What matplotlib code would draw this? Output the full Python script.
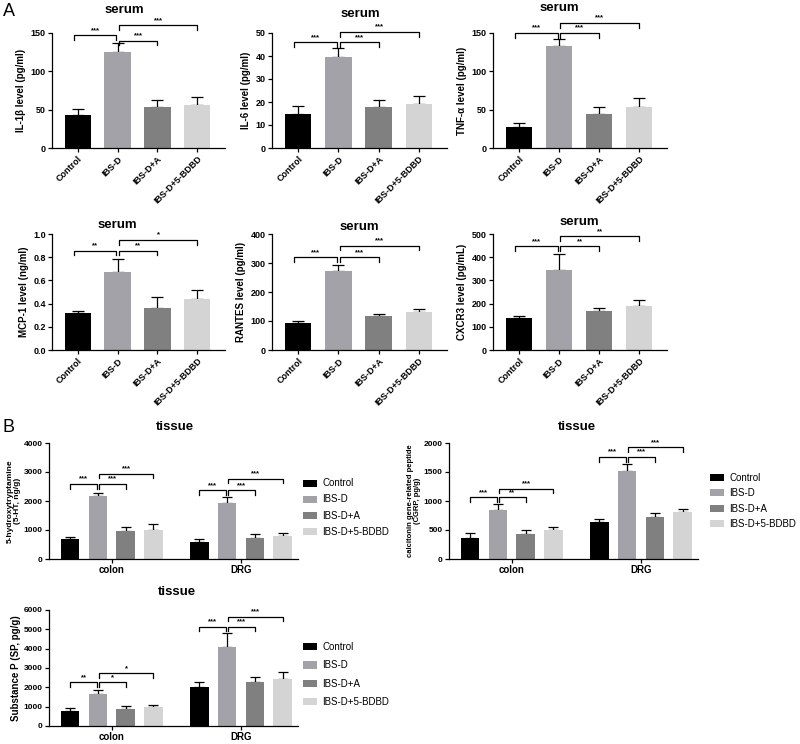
import numpy as np
import matplotlib
matplotlib.use('Agg')
import matplotlib.pyplot as plt

plt.rcParams['font.family'] = ['Liberation Sans', 'DejaVu Sans']

groups = ['Control', 'IBS-D', 'IBS-D+A', 'IBS-D+5-BDBD']
colors = ['#000000', '#a2a2a8', '#808080', '#d4d4d4']

# serum panels: means and upper error lengths
il1b = [43, 125, 54, 56]
il1b_err = [8, 12, 8, 11]
il6 = [15, 39.5, 18, 19]
il6_err = [3.3, 4, 3, 3.5]
tnf = [28, 133, 45, 54]
tnf_err = [4, 9, 8, 11]
mcp1 = [0.317, 0.674, 0.366, 0.441]
mcp1_err = [0.02, 0.113, 0.089, 0.078]
rantes = [92, 273, 118, 131]
rantes_err = [9, 21, 5, 10]
cxcr3 = [137, 346, 166, 189]
cxcr3_err = [10, 68, 14, 26]

# tissue panels: colon and DRG groups
tissues = ['colon', 'DRG']
ht5_colon = [680, 2156, 957, 991]
ht5_colon_err = [92, 115, 138, 208]
ht5_drg = [588, 1948, 738, 784]
ht5_drg_err = [92, 185, 115, 127]
cgrp_colon = [357, 847, 432, 501]
cgrp_colon_err = [87, 98, 69, 47]
cgrp_drg = [634, 1522, 726, 807]
cgrp_drg_err = [52, 115, 75, 58]
sp_colon = [776, 1638, 879, 966]
sp_colon_err = [138, 207, 138, 137]
sp_drg = [2034, 4103, 2293, 2431]
sp_drg_err = [259, 690, 241, 345]

W, H = 800, 744
fig = plt.figure(figsize=(8, 7.44), dpi=100)


def add_ax(l, t, r, b):
    ax = fig.add_axes([l / W, 1 - b / H, (r - l) / W, (b - t) / H])
    ax.spines['top'].set_visible(False)
    ax.spines['right'].set_visible(False)
    for s in ['left', 'bottom']:
        ax.spines[s].set_linewidth(0.9)
    ax.tick_params(width=0.9, length=3, labelsize=6.5, pad=1.5)
    return ax


def bold_yticks(ax):
    for lab in ax.get_yticklabels():
        lab.set_fontweight('bold')


def bracket(ax, x1, x2, y, txt, drop):
    ax.plot([x1, x1, x2, x2], [y - drop, y, y, y - drop], color='k', lw=0.9, clip_on=False)
    ax.text((x1 + x2) / 2, y + drop * 0.3, txt, ha='center', va='bottom', fontsize=5.5,
            fontweight='bold', clip_on=False)


def serum_panel(l, t, r, b, vals, errs, ymax, yticks, ylabel, sig, levels):
    ax = add_ax(l, t, r, b)
    x = np.arange(4)
    ax.bar(x, vals, width=0.66, color=colors, zorder=2)
    ax.errorbar(x, vals, yerr=[np.zeros(4), errs], fmt='none', ecolor='k',
                elinewidth=0.9, capsize=4.3, capthick=0.9, zorder=1)
    ax.set_xlim(-0.65, 3.7)
    ax.set_ylim(0, ymax)
    ax.set_yticks(yticks)
    ax.set_xticks(x)
    ax.set_xticklabels(groups, rotation=45, ha='right', rotation_mode='anchor',
                       fontsize=6.5, fontweight='bold')
    bold_yticks(ax)
    ax.set_ylabel(ylabel, fontsize=7, fontweight='bold', labelpad=3)
    drop = ymax * 0.04
    bracket(ax, -0.1, 0.97, levels[0], sig[0], drop)
    bracket(ax, 1.03, 2.0, levels[1], sig[1], drop)
    bracket(ax, 1.03, 3.0, levels[2], sig[2], drop)
    return ax


def tissue_panel(l, t, r, b, cvals, cerrs, dvals, derrs, ymax, yticks, ylabel, ysize,
                 csig, clev, dsig, dlev, leg_xy, leg_sp):
    ax = add_ax(l, t, r, b)
    off = 4.65
    x = np.arange(4)
    for i in range(4):
        ax.bar([x[i], x[i] + off], [cvals[i], dvals[i]], width=0.67, color=colors[i],
               label=groups[i], zorder=2)
    ax.errorbar(np.concatenate([x, x + off]), cvals + dvals,
                yerr=[np.zeros(8), cerrs + derrs], fmt='none', ecolor='k',
                elinewidth=0.9, capsize=3.6, capthick=0.9, zorder=1)
    ax.set_xlim(-0.76, 8.2)
    ax.set_ylim(0, ymax)
    ax.set_yticks(yticks)
    ax.tick_params(axis='y', labelsize=6)
    ax.set_xticks([1.5, 1.5 + off])
    ax.set_xticklabels(tissues, fontsize=7, fontweight='bold')
    bold_yticks(ax)
    ax.set_ylabel(ylabel, fontsize=ysize, fontweight='bold', labelpad=2, linespacing=1.05)
    drop = ymax * 0.04
    for base, sig, lev in [(0, csig, clev), (off, dsig, dlev)]:
        bracket(ax, base, base + 0.97, lev[0], sig[0], drop)
        bracket(ax, base + 1.03, base + 2.0, lev[1], sig[1], drop)
        bracket(ax, base + 1.03, base + 3.0, lev[2], sig[2], drop)
    ax.legend(loc='center left', bbox_to_anchor=leg_xy, frameon=False, fontsize=7,
              borderaxespad=0, borderpad=0, handlelength=1.4, handleheight=0.75,
              handletextpad=0.6, labelspacing=leg_sp)
    return ax


# row A1
serum_panel(52, 33, 225, 148, il1b, il1b_err, 150, [0, 50, 100, 150],
            'IL-1\u03b2 level (pg/ml)', ['***', '***', '***'], [147, 140, 160])
serum_panel(272, 33, 447, 148, il6, il6_err, 50, [0, 10, 20, 30, 40, 50],
            'IL-6 level (pg/ml)', ['***', '***', '***'], [46, 46, 50.4])
serum_panel(493, 33, 667, 148, tnf, tnf_err, 150, [0, 50, 100, 150],
            'TNF-\u03b1 level (pg/ml)', ['***', '***', '***'], [150, 150, 163])
# row A2
serum_panel(52, 234, 225, 350, mcp1, mcp1_err, 1.0, [0, 0.2, 0.4, 0.6, 0.8, 1.0],
            'MCP-1 level (ng/ml)', ['**', '**', '*'], [0.856, 0.856, 0.948])
serum_panel(272, 234, 447, 350, rantes, rantes_err, 400, [0, 100, 200, 300, 400],
            'RANTES level (pg/ml)', ['***', '***', '***'], [320, 320, 360])
serum_panel(493, 234, 667, 350, cxcr3, cxcr3_err, 500, [0, 100, 200, 300, 400, 500],
            'CXCR3 level (pg/mL)', ['***', '**', '**'], [447, 447, 490])

# row B
tissue_panel(49, 443, 298, 559, ht5_colon, ht5_colon_err, ht5_drg, ht5_drg_err,
             4000, [0, 1000, 2000, 3000, 4000], '5-hydroxytryptamine\n(5-HT, ng/g)', 6,
             ['***', '***', '***'], [2582, 2582, 2939],
             ['***', '***', '***'], [2363, 2363, 2767], (1.02, 0.444), 0.62)
tissue_panel(449, 443, 698, 559, cgrp_colon, cgrp_colon_err, cgrp_drg, cgrp_drg_err,
             2000, [0, 500, 1000, 1500, 2000], 'calcitonin gene-related peptide\n(CGRP, pg/g)', 5.5,
             ['***', '**', '***'], [1066, 1066, 1210],
             ['***', '***', '***'], [1758, 1758, 1925], (1.048, 0.5), 0.55)
tissue_panel(49, 610, 298, 726, sp_colon, sp_colon_err, sp_drg, sp_drg_err,
             6000, [0, 1000, 2000, 3000, 4000, 5000, 6000], 'Substance P (SP, pg/g)', 7,
             ['**', '*', '*'], [2259, 2259, 2724],
             ['***', '***', '***'], [5138, 5138, 5655], (1.02, 0.444), 0.85)

# titles
for x, y, s in [(124, 10, 'serum'), (360, 14, 'serum'), (559, 8, 'serum'),
                (117, 225, 'serum'), (359, 227, 'serum'), (579, 222, 'serum'),
                (175, 427, 'tissue'), (577, 427, 'tissue'), (177, 592, 'tissue')]:
    fig.text(x / W, 1 - y / H, s, ha='center', va='center', fontsize=9.5, fontweight='bold')

fig.text(3 / W, 1 - 11 / H, 'A', fontsize=13, va='center', ha='left')
fig.text(2 / W, 1 - 427 / H, 'B', fontsize=13, va='center', ha='left')

fig.savefig('out.png', dpi=100, facecolor='white')
